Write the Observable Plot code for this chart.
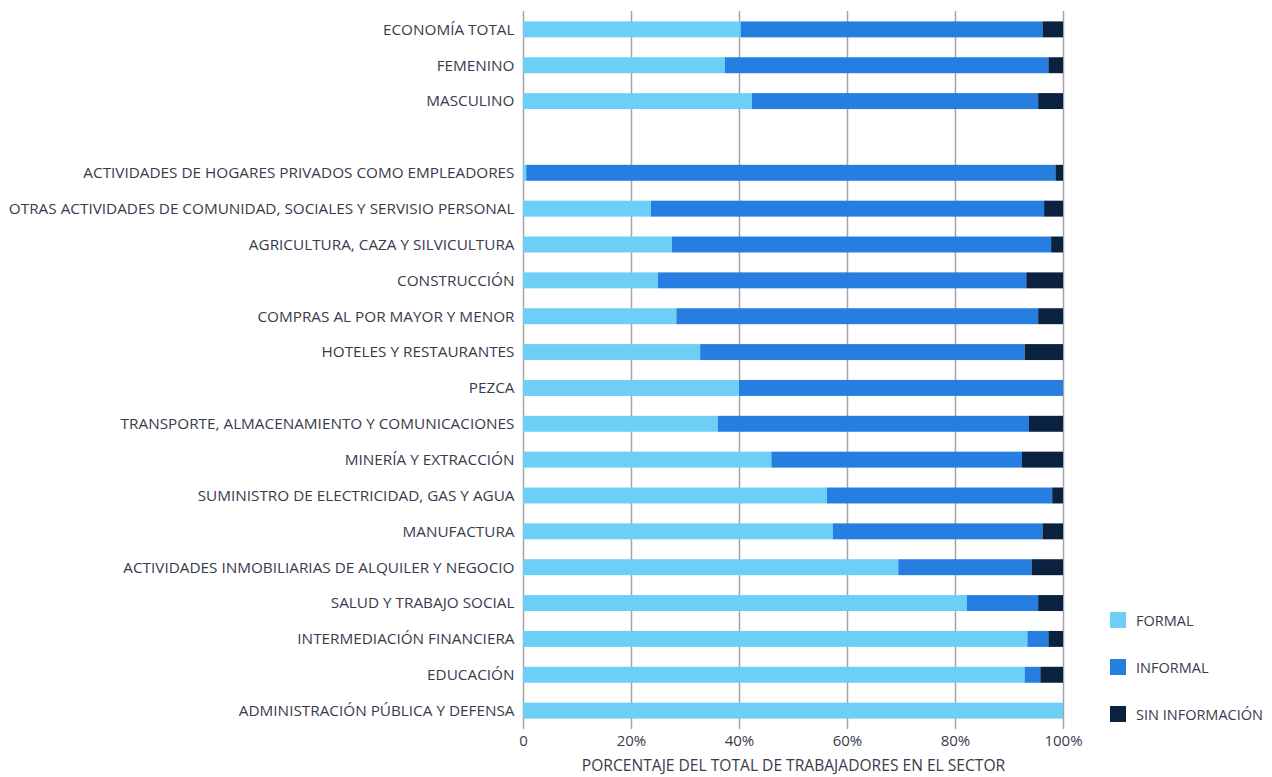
<!DOCTYPE html>
<html>
<head>
<meta charset="utf-8">
<script src="https://cdn.jsdelivr.net/npm/d3@7"></script>
<script src="https://cdn.jsdelivr.net/npm/@observablehq/plot@0.6"></script>
<style>
  html, body { margin: 0; padding: 0; background: #fff; }
  #wrap { position: relative; width: 1272px; height: 777px; font-family: "Open Sans", sans-serif; }
  #legend { position: absolute; left: 1110px; top: 611px; font-size: 14.5px; color: #3a3a4c; }
  #legend .item { display: flex; align-items: center; height: 18px; margin-bottom: 29px; white-space: nowrap; }
  #legend .sw { width: 16px; height: 16px; margin-right: 10px; flex: none; }
</style>
</head>
<body>
<div id="wrap"><div id="legend"></div></div>
<script>
const categorias = [
  "ECONOMÍA TOTAL", "FEMENINO", "MASCULINO",
  "ACTIVIDADES DE HOGARES PRIVADOS COMO EMPLEADORES",
  "OTRAS ACTIVIDADES DE COMUNIDAD, SOCIALES Y SERVISIO PERSONAL",
  "AGRICULTURA, CAZA Y SILVICULTURA",
  "CONSTRUCCIÓN",
  "COMPRAS AL POR MAYOR Y MENOR",
  "HOTELES Y RESTAURANTES",
  "PEZCA",
  "TRANSPORTE, ALMACENAMIENTO Y COMUNICACIONES",
  "MINERÍA Y EXTRACCIÓN",
  "SUMINISTRO DE ELECTRICIDAD, GAS Y AGUA",
  "MANUFACTURA",
  "ACTIVIDADES INMOBILIARIAS DE ALQUILER Y NEGOCIO",
  "SALUD Y TRABAJO SOCIAL",
  "INTERMEDIACIÓN FINANCIERA",
  "EDUCACIÓN",
  "ADMINISTRACIÓN PÚBLICA Y DEFENSA"
];
const series = ["FORMAL", "INFORMAL", "SIN INFORMACIÓN"];
const formal   = [40.3, 37.4, 42.4, 0.6, 23.7, 27.6, 25.0, 28.4, 32.8, 40.0, 36.1, 46.0, 56.3, 57.4, 69.5, 82.2, 93.4, 92.9, 100];
const informal = [55.9, 59.9, 53.0, 98.0, 72.8, 70.2, 68.2, 67.0, 60.1, 60.0, 57.6, 46.4, 41.7, 38.8, 24.7, 13.2, 3.9, 2.9, 0];
const sinInfo  = [3.8, 2.7, 4.6, 1.4, 3.5, 2.2, 6.8, 4.6, 7.1, 0, 6.3, 7.6, 2.0, 3.8, 5.8, 4.6, 2.7, 4.2, 0];
const colores = ["#6dcff6", "#257ee0", "#0a2140"];
const xTicks = [0, 20, 40, 60, 80, 100];
const xTickLabels = ["0", "20%", "40%", "60%", "80%", "100%"];
const titulo = "PORCENTAJE DEL TOTAL DE TRABAJADORES EN EL SECTOR";

const valores = [formal, informal, sinInfo];
const datos = [];
series.forEach((s, j) => categorias.forEach((c, i) => datos.push({categoria: c, serie: s, valor: valores[j][i]})));

const yDomain = [...categorias.slice(0, 3), " ", ...categorias.slice(3)];

const chart = Plot.plot({
  width: 1272,
  height: 777,
  marginLeft: 523,
  marginRight: 209,
  marginTop: 11,
  marginBottom: 48,
  style: {fontFamily: "Open Sans, sans-serif", fontSize: "15px", color: "#3a3a4c", background: "#fff"},
  x: {domain: [0, 100]},
  y: {domain: yDomain, paddingInner: 0.555, paddingOuter: 0.29, round: false},
  color: {domain: series, range: colores},
  marks: [
    Plot.ruleX(xTicks, {stroke: "#a3a3a8", strokeWidth: 1.5}),
    Plot.barX(datos, Plot.stackX({y: "categoria", x: "valor", fill: "serie", order: series})),
    Plot.axisY({tickSize: 0, tickPadding: 9, label: null, fontSize: 15.3}),
    Plot.axisX({ticks: xTicks, tickFormat: (d, i) => xTickLabels[i], tickSize: 0, tickPadding: 6, label: null, fontSize: 15}),
    Plot.text([titulo], {text: d => d, frameAnchor: "bottom", dy: 41, fontSize: 15.6, fill: "#3a3a4c"})
  ]
});
document.getElementById("wrap").prepend(chart);

const legend = document.getElementById("legend");
series.forEach((s, i) => {
  const item = document.createElement("div");
  item.className = "item";
  item.innerHTML = `<span class="sw" style="background:${colores[i]}"></span><span>${s}</span>`;
  legend.appendChild(item);
});
</script>
</body>
</html>
